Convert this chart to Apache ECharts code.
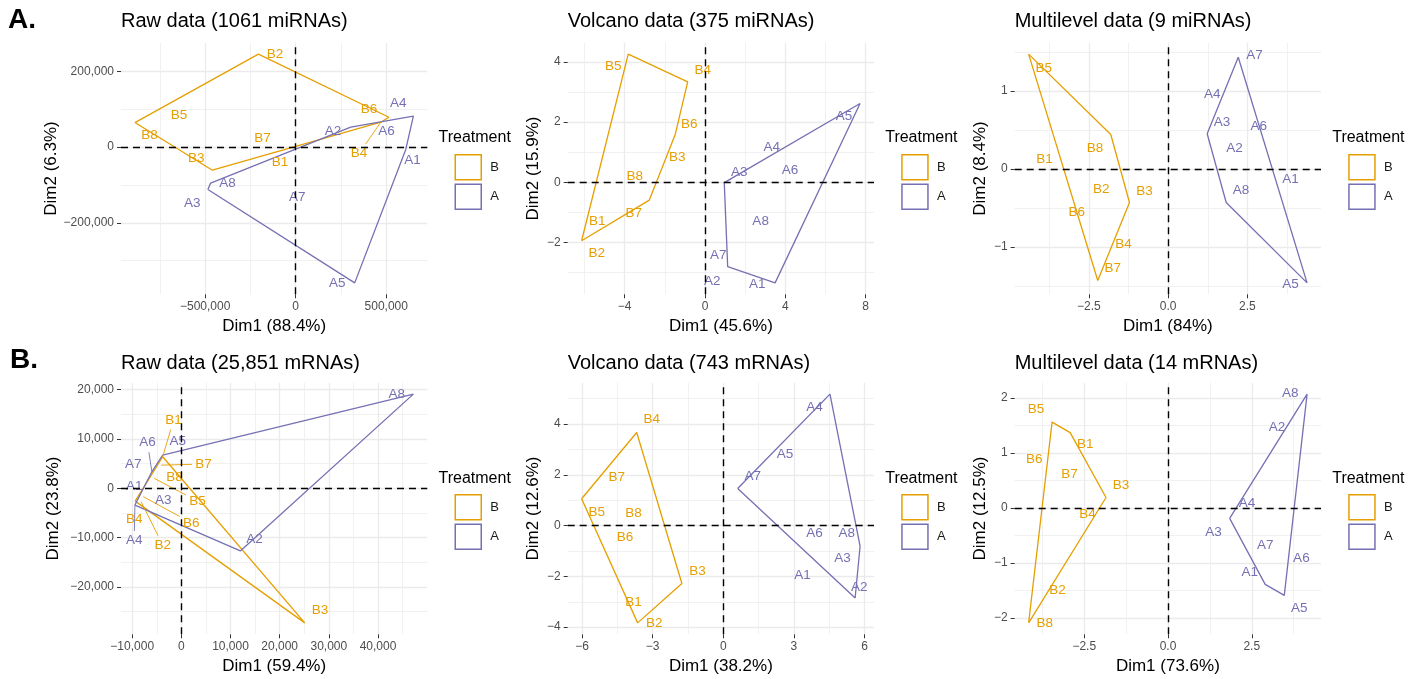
<!DOCTYPE html>
<html><head><meta charset="utf-8">
<script src="https://cdn.jsdelivr.net/npm/echarts@6/dist/echarts.min.js"></script>
<style>html,body{margin:0;padding:0;background:#fff}#c{width:1418px;height:679px}</style>
</head><body><div id="c"></div>
<script>
// ---------------- DATA ----------------
const namesA = ['A1','A2','A3','A4','A5','A6','A7','A8'];
const namesB = ['B1','B2','B3','B4','B5','B6','B7','B8'];
const groups = ['B','A'];

// Panel 1: Raw data (1061 miRNAs)
const miRaw_Ax = [608000, 304000, -485000, 650000, 326000, 470000, 9000, -470000];
const miRaw_Ay = [-6000, 53000, -112000, 82000, -359000, 66000, -132000, -95000];
const miRaw_ALx = [645000, 206000, -571000, 567000, 230000, 501000, 9000, -377000];
const miRaw_ALy = [-35000, 42000, -148000, 115000, -360000, 41000, -132000, -95000];
const miRaw_Bx = [-11000, -206000, -460000, 470000, -645000, 515000, -184000, -888000];
const miRaw_By = [4000, 246000, -61000, 66000, 84000, 79000, 24000, 65000];
const miRaw_BLx = [-87000, -114000, -549000, 350000, -645000, 405000, -184000, -807000];
const miRaw_BLy = [-41000, 246000, -29000, -17000, 84000, 99000, 24000, 31000];
const miRaw_xTicks = [-500000, 0, 500000];
const miRaw_xMinor = [-750000, -250000, 250000];
const miRaw_yTicks = [-200000, 0, 200000];
const miRaw_yMinor = [-300000, -100000, 100000];

// Panel 2: Volcano data (375 miRNAs)
const miVol_Ax = [3.49, 1.13, 0.96, 3.32, 7.72, 4.23, 1.17, 2.77];
const miVol_Ay = [-3.34, -2.80, -0.01, 0.84, 2.62, 0.41, -2.32, -1.28];
const miVol_ALx = [2.60, 0.36, 1.71, 3.32, 6.92, 4.23, 0.66, 2.77];
const miVol_ALy = [-3.38, -3.28, 0.33, 1.16, 2.18, 0.41, -2.42, -1.28];
const miVol_Bx = [-5.36, -6.14, -2.14, -0.86, -3.82, -1.49, -2.77, -3.49];
const miVol_By = [-1.31, -1.94, 0.81, 3.34, 4.26, 1.57, -0.59, 0.19];
const miVol_BLx = [-5.36, -5.39, -1.38, -0.11, -4.57, -0.78, -3.54, -3.49];
const miVol_BLy = [-1.31, -2.36, 0.83, 3.71, 3.84, 1.94, -1.03, 0.19];
const miVol_xTicks = [-4, 0, 4, 8];
const miVol_xMinor = [-6, -2, 2, 6];
const miVol_yTicks = [-2, 0, 2, 4];
const miVol_yMinor = [-3, -1, 1, 3];

// Panel 3: Multilevel data (9 miRNAs)
const miMul_Ax = [3.32, 2.09, 1.23, 1.78, 4.38, 2.75, 2.21, 1.83];
const miMul_Ay = [-0.09, 0.26, 0.45, 0.95, -1.46, 0.54, 1.43, -0.43];
const miMul_ALx = [3.86, 2.09, 1.70, 1.39, 3.86, 2.86, 2.72, 2.30];
const miMul_ALy = [-0.13, 0.26, 0.60, 0.95, -1.48, 0.54, 1.46, -0.28];
const miMul_Bx = [-3.33, -2.11, -1.22, -1.82, -4.40, -2.80, -2.22, -1.81];
const miMul_By = [0.11, -0.26, -0.43, -0.95, 1.47, -0.55, -1.43, 0.44];
const miMul_BLx = [-3.90, -2.11, -0.75, -1.41, -3.92, -2.88, -1.75, -2.31];
const miMul_BLy = [0.12, -0.26, -0.29, -0.96, 1.29, -0.55, -1.27, 0.26];
const miMul_xTicks = [-2.5, 0, 2.5];
const miMul_xMinor = [-3.75, -1.25, 1.25, 3.75];
const miMul_yTicks = [-1, 0, 1];
const miMul_yMinor = [-1.5, -0.5, 0.5, 1.5];

// Panel 4: Raw data (25,851 mRNAs)
const mRaw_Ax = [-7300, 12000, -3700, -9450, -3800, -6000, -4900, 47200];
const mRaw_Ay = [100, -12700, -2400, -3400, 6750, 3350, 4500, 19100];
const mRaw_ALx = [-9600, 14900, -3700, -9600, -750, -6900, -9800, 43800];
const mRaw_ALy = [470, -10300, -2400, -10600, 9450, 9250, 4870, 19100];
const mRaw_Bx = [-3800, -8200, 25100, -9400, -5500, -7750, -4150, -2000];
const mRaw_By = [6400, -2700, -27300, -2600, 2000, -1700, 4700, 2100];
const mRaw_BLx = [-1600, -3800, 28200, -9600, 3300, 2000, 4500, -1400];
const mRaw_BLy = [13850, -11500, -24800, -6200, -2600, -7000, 4900, 2150];
const mRaw_xTicks = [-10000, 0, 10000, 20000, 30000, 40000];
const mRaw_xMinor = [-5000, 5000, 15000, 25000, 35000, 45000];
const mRaw_yTicks = [-20000, -10000, 0, 10000, 20000];
const mRaw_yMinor = [-25000, -15000, -5000, 5000, 15000];

// Panel 5: Volcano data (743 mRNAs)
const mVol_Ax = [3.94, 5.60, 5.06, 4.53, 2.62, 3.87, 0.61, 5.81];
const mVol_Ay = [-1.34, -2.85, -1.30, 5.18, 2.83, -0.31, 1.46, -0.81];
const mVol_ALx = [3.36, 5.78, 5.06, 3.87, 2.62, 3.87, 1.25, 5.24];
const mVol_ALy = [-1.94, -2.41, -1.30, 4.67, 2.83, -0.31, 1.94, -0.31];
const mVol_Bx = [-3.82, -3.64, -1.76, -3.68, -6.02, -4.18, -4.53, -3.82];
const mVol_By = [-3.00, -3.83, -2.28, 3.67, 1.06, -0.44, 1.90, 0.47];
const mVol_BLx = [-3.82, -2.93, -1.10, -3.04, -5.38, -4.18, -4.53, -3.82];
const mVol_BLy = [-3.00, -3.86, -1.80, 4.17, 0.54, -0.44, 1.90, 0.47];
const mVol_xTicks = [-6, -3, 0, 3, 6];
const mVol_xMinor = [-4.5, -1.5, 1.5, 4.5];
const mVol_yTicks = [-4, -2, 0, 2, 4];
const mVol_yMinor = [-3, -1, 1, 3, 5];

// Panel 6: Multilevel data (14 mRNAs)
const mMul_Ax = [2.90, 3.59, 1.84, 2.36, 3.47, 3.53, 2.90, 4.15];
const mMul_Ay = [-1.39, 1.46, -0.19, 0.08, -1.59, -0.90, -0.67, 2.07];
const mMul_ALx = [2.44, 3.25, 1.36, 2.36, 3.92, 3.98, 2.90, 3.65];
const mMul_ALy = [-1.17, 1.47, -0.44, 0.08, -1.83, -0.91, -0.67, 2.08];
const mMul_Bx = [-2.92, -3.60, -1.85, -2.40, -3.46, -3.54, -2.94, -4.16];
const mMul_By = [1.37, -1.50, 0.19, -0.11, 1.56, 0.88, 0.62, -2.09];
const mMul_BLx = [-2.47, -3.30, -1.40, -2.40, -3.94, -3.99, -2.94, -3.68];
const mMul_BLy = [1.15, -1.50, 0.41, -0.11, 1.79, 0.88, 0.62, -2.10];
const mMul_xTicks = [-2.5, 0, 2.5];
const mMul_xMinor = [-3.75, -1.25, 1.25, 3.75];
const mMul_yTicks = [-2, -1, 0, 1, 2];
const mMul_yMinor = [-1.5, -0.5, 0.5, 1.5];

const panelTitles = ['Raw data (1061 miRNAs)', 'Volcano data (375 miRNAs)', 'Multilevel data (9 miRNAs)',
                     'Raw data (25,851 mRNAs)', 'Volcano data (743 mRNAs)', 'Multilevel data (14 mRNAs)'];
const xNames = ['Dim1 (88.4%)', 'Dim1 (45.6%)', 'Dim1 (84%)', 'Dim1 (59.4%)', 'Dim1 (38.2%)', 'Dim1 (73.6%)'];
const yNames = ['Dim2 (6.3%)', 'Dim2 (15.9%)', 'Dim2 (8.4%)', 'Dim2 (23.8%)', 'Dim2 (12.6%)', 'Dim2 (12.5%)'];
const legendTitle = 'Treatment';
const sectionTags = ['A.', 'B.'];

// ---------------- STYLE / LAYOUT ----------------
const FONT = '"Liberation Sans", Arial, Helvetica, sans-serif';
const COLOR = { B: '#E69F00', A: '#7570B3' };
const colLeft = [121, 567.7, 1014.7];
const rowTop = [42.7, 382.7];
const gridW = 306.3, gridH = 251.6;
const yNameGap = [59, 26, 25.5];
const xFmt = [{c:true,d:0},{c:false,d:0},{c:false,d:1},{c:true,d:0},{c:false,d:0},{c:false,d:1}];
const yFmt = [{c:true,d:0},{c:false,d:0},{c:false,d:0},{c:true,d:0},{c:false,d:0},{c:false,d:0}];

const panels = [
  {ax:miRaw_Ax, ay:miRaw_Ay, alx:miRaw_ALx, aly:miRaw_ALy, bx:miRaw_Bx, by:miRaw_By, blx:miRaw_BLx, bly:miRaw_BLy, xt:miRaw_xTicks, xm:miRaw_xMinor, yt:miRaw_yTicks, ym:miRaw_yMinor},
  {ax:miVol_Ax, ay:miVol_Ay, alx:miVol_ALx, aly:miVol_ALy, bx:miVol_Bx, by:miVol_By, blx:miVol_BLx, bly:miVol_BLy, xt:miVol_xTicks, xm:miVol_xMinor, yt:miVol_yTicks, ym:miVol_yMinor},
  {ax:miMul_Ax, ay:miMul_Ay, alx:miMul_ALx, aly:miMul_ALy, bx:miMul_Bx, by:miMul_By, blx:miMul_BLx, bly:miMul_BLy, xt:miMul_xTicks, xm:miMul_xMinor, yt:miMul_yTicks, ym:miMul_yMinor},
  {ax:mRaw_Ax, ay:mRaw_Ay, alx:mRaw_ALx, aly:mRaw_ALy, bx:mRaw_Bx, by:mRaw_By, blx:mRaw_BLx, bly:mRaw_BLy, xt:mRaw_xTicks, xm:mRaw_xMinor, yt:mRaw_yTicks, ym:mRaw_yMinor},
  {ax:mVol_Ax, ay:mVol_Ay, alx:mVol_ALx, aly:mVol_ALy, bx:mVol_Bx, by:mVol_By, blx:mVol_BLx, bly:mVol_BLy, xt:mVol_xTicks, xm:mVol_xMinor, yt:mVol_yTicks, ym:mVol_yMinor},
  {ax:mMul_Ax, ay:mMul_Ay, alx:mMul_ALx, aly:mMul_ALy, bx:mMul_Bx, by:mMul_By, blx:mMul_BLx, bly:mMul_BLy, xt:mMul_xTicks, xm:mMul_xMinor, yt:mMul_yTicks, ym:mMul_yMinor}
];

function fmtTick(v, f) {
  const a = Math.abs(v);
  let s = f.c ? a.toFixed(0).replace(/\B(?=(\d{3})+(?!\d))/g, ',') : a.toFixed(f.d);
  return (v < 0 ? '\u2212' : '') + s;
}
function expand(arr) {
  const mn = Math.min(...arr), mx = Math.max(...arr), r = mx - mn;
  return [mn - 0.05 * r, mx + 0.05 * r];
}
function hull(pts) {
  const p = pts.slice().sort((a, b) => a[0] - b[0] || a[1] - b[1]);
  const cross = (o, a, b) => (a[0]-o[0])*(b[1]-o[1]) - (a[1]-o[1])*(b[0]-o[0]);
  const lower = [], upper = [];
  for (const q of p) { while (lower.length >= 2 && cross(lower[lower.length-2], lower[lower.length-1], q) <= 0) lower.pop(); lower.push(q); }
  for (let i = p.length - 1; i >= 0; i--) { const q = p[i]; while (upper.length >= 2 && cross(upper[upper.length-2], upper[upper.length-1], q) <= 0) upper.pop(); upper.push(q); }
  upper.pop(); lower.pop();
  const h = lower.concat(upper);
  h.push(h[0]);
  return h;
}
function labelRender(names, color) {
  return function (params, api) {
    const p = api.coord([api.value(0), api.value(1)]);
    const l = api.coord([api.value(2), api.value(3)]);
    const name = names[params.dataIndex];
    const hw = 8.5, hh = 6.5;
    const nx = Math.max(l[0] - hw, Math.min(p[0], l[0] + hw));
    const ny = Math.max(l[1] - hh, Math.min(p[1], l[1] + hh));
    const d = Math.hypot(p[0] - nx, p[1] - ny);
    const children = [];
    if (d > 18) {
      const dx = p[0] - l[0], dy = p[1] - l[1];
      const t = Math.min((hw + 3) / Math.max(Math.abs(dx), 1e-6), (hh + 3) / Math.max(Math.abs(dy), 1e-6));
      children.push({ type: 'line', shape: { x1: p[0], y1: p[1], x2: l[0] + dx * t, y2: l[1] + dy * t },
        style: { stroke: color, lineWidth: 0.9 } });
    }
    children.push({ type: 'text', x: l[0], y: l[1],
      style: { text: name, fill: color, fontSize: 13.5, fontFamily: FONT, align: 'center', verticalAlign: 'middle' } });
    return { type: 'group', children };
  };
}

const grid = [], xAxis = [], yAxis = [], series = [], legend = [], title = [];
panels.forEach((P, i) => {
  const col = i % 3, row = Math.floor(i / 3);
  grid.push({ left: colLeft[col], top: rowTop[row], width: gridW, height: gridH, outerBoundsMode: 'none', containLabel: false });
  const xr = expand(P.ax.concat(P.bx)), yr = expand(P.ay.concat(P.by));
  xAxis.push({
    gridIndex: i, type: 'value', min: xr[0], max: xr[1], position: 'bottom',
    axisLine: { show: false, onZero: false },
    axisTick: { show: true, length: 4, lineStyle: { color: '#333', width: 1 }, customValues: P.xt },
    axisLabel: { customValues: P.xt, formatter: v => fmtTick(v, xFmt[i]), color: '#4D4D4D', fontSize: 12, fontFamily: FONT, margin: 6 },
    splitLine: { show: true, lineStyle: { color: '#EBEBEB', width: 1.3 } },
    name: xNames[i], nameLocation: 'middle', nameGap: 24,
    nameTextStyle: { fontSize: 17, color: '#000', fontFamily: FONT }
  });
  xAxis.push({
    gridIndex: i, type: 'value', min: xr[0], max: xr[1], position: 'top',
    axisLine: { show: false, onZero: false }, axisTick: { show: false, customValues: P.xm },
    axisLabel: { show: false, customValues: P.xm },
    splitLine: { show: true, lineStyle: { color: '#EDEDED', width: 0.8 } }
  });
  yAxis.push({
    gridIndex: i, type: 'value', min: yr[0], max: yr[1], position: 'left',
    axisLine: { show: false, onZero: false },
    axisTick: { show: true, length: 4, lineStyle: { color: '#333', width: 1 }, customValues: P.yt },
    axisLabel: { customValues: P.yt, formatter: v => fmtTick(v, yFmt[i]), color: '#4D4D4D', fontSize: 12, fontFamily: FONT, margin: 7 },
    splitLine: { show: true, lineStyle: { color: '#EBEBEB', width: 1.3 } },
    name: yNames[i], nameLocation: 'middle', nameGap: yNameGap[col],
    nameTextStyle: { fontSize: 17, color: '#000', fontFamily: FONT }
  });
  yAxis.push({
    gridIndex: i, type: 'value', min: yr[0], max: yr[1], position: 'right',
    axisLine: { show: false, onZero: false }, axisTick: { show: false, customValues: P.ym },
    axisLabel: { show: false, customValues: P.ym },
    splitLine: { show: true, lineStyle: { color: '#EDEDED', width: 0.8 } }
  });
  const xi = 2 * i, yi = 2 * i;
  const grp = {
    B: { x: P.bx, y: P.by, lx: P.blx, ly: P.bly, names: namesB },
    A: { x: P.ax, y: P.ay, lx: P.alx, ly: P.aly, names: namesA }
  };
  groups.forEach((g, gi) => {
    const G = grp[g];
    const pts = G.x.map((x, k) => [x, G.y[k]]);
    const s = {
      name: g, type: 'line', xAxisIndex: xi, yAxisIndex: yi, data: hull(pts),
      symbol: 'none', showSymbol: false, silent: true, z: 3,
      lineStyle: { color: COLOR[g], width: 1.3 }, itemStyle: { color: COLOR[g] }
    };
    if (gi === 0) {
      s.markLine = {
        silent: true, symbol: ['none', 'none'], label: { show: false },
        lineStyle: { color: '#000', width: 1.4, type: [7, 5] },
        data: [{ xAxis: 0 }, { yAxis: 0 }]
      };
    }
    series.push(s);
    series.push({
      name: 'labels ' + g, type: 'custom', xAxisIndex: xi, yAxisIndex: yi, z: 4, silent: true,
      encode: { x: 0, y: 1 },
      data: G.x.map((x, k) => [x, G.y[k], G.lx[k], G.ly[k]]),
      renderItem: labelRender(G.names, COLOR[g])
    });
  });
  legend.push({
    left: colLeft[col] + 333.5, top: rowTop[row] + 111.3, orient: 'vertical',
    itemWidth: 26, itemHeight: 25, itemGap: 3, padding: 0, selectedMode: false, icon: 'rect',
    textStyle: { fontSize: 13, color: '#1A1A1A', fontFamily: FONT, padding: [0, 0, 0, 4] },
    data: groups.map(g => ({ name: g, icon: 'rect', itemStyle: { color: 'rgba(0,0,0,0)', borderColor: COLOR[g], borderWidth: 1.5 } }))
  });
  title.push({ text: panelTitles[i], left: colLeft[col], top: row === 0 ? 11.3 : 353.3, padding: 0,
    textStyle: { fontSize: 20, fontWeight: 'normal', color: '#000', fontFamily: FONT } });
  title.push({ text: legendTitle, left: colLeft[col] + 317.5, top: row === 0 ? 130 : 471, padding: 0,
    textStyle: { fontSize: 16, fontWeight: 'normal', color: '#000', fontFamily: FONT } });
});
title.push({ text: sectionTags[0], left: 8, top: 6, padding: 0, textStyle: { fontSize: 28, fontWeight: 'bold', color: '#000', fontFamily: FONT } });
title.push({ text: sectionTags[1], left: 10, top: 346, padding: 0, textStyle: { fontSize: 28, fontWeight: 'bold', color: '#000', fontFamily: FONT } });

const chart = echarts.init(document.getElementById('c'), null, { renderer: 'canvas' });
chart.setOption({
  backgroundColor: '#fff', animation: false,
  title, grid, xAxis, yAxis, series, legend
});
</script></body></html>
